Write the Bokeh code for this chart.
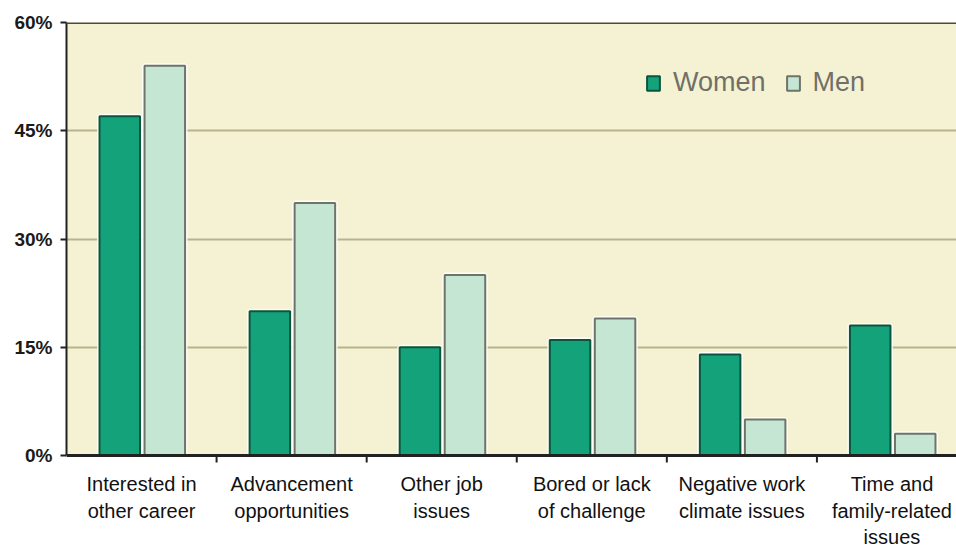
from bokeh.plotting import figure
from bokeh.models import (Range1d, FixedTicker, ColumnDataSource, Legend,
                          LegendItem, Span, LabelSet, BoxAnnotation)
from bokeh.core.properties import value
from bokeh.embed import file_html
from bokeh.resources import INLINE

# Reasons for leaving, share of respondents by gender
categories = [
    "Interested in\nother career",
    "Advancement\nopportunities",
    "Other job\nissues",
    "Bored or lack\nof challenge",
    "Negative work\nclimate issues",
    "Time and\nfamily-related\nissues",
]
women = [47, 20, 15, 16, 14, 18]
men = [54, 35, 25, 19, 5, 3]
y_ticks = [0, 15, 30, 45, 60]
y_tick_labels = ["0%", "15%", "30%", "45%", "60%"]

centers = [i + 0.5 for i in range(len(categories))]
boundaries = [i for i in range(1, len(categories))]

# plot area: 433 px for 0..60 %, with 93 px of label room below zero
PLOT_H = 433
LABEL_ROOM = 93
px = PLOT_H / 60.0
y_low = -LABEL_ROOM / px

src = ColumnDataSource(dict(
    xw=[c - 0.145 for c in centers],
    xm=[c + 0.155 for c in centers],
    women=women,
    men=men,
))

p = figure(width=956, height=548, x_range=Range1d(0, 5.93), y_range=Range1d(y_low, 60),
           output_backend="svg", toolbar_location=None, x_axis_location=None,
           min_border_left=66, min_border_right=0, min_border_top=22,
           min_border_bottom=0)
p.background_fill_color = "white"
p.border_fill_color = "white"
p.outline_line_color = None

# pale yellow chart area above the zero line
p.add_layout(BoxAnnotation(bottom=0, top=60, fill_color="#f4f2d3", fill_alpha=1,
                           line_color=None, level="image"))

# grid
p.xgrid.visible = False
p.ygrid.ticker = FixedTicker(ticks=[15, 30, 45])
p.ygrid.grid_line_color = "#b8b38e"
p.ygrid.grid_line_width = 2
p.add_layout(Span(location=60, dimension="width", line_color="#4d4c3c", line_width=3))

# soft white halo behind the bars
bar_w = 0.27
p.vbar(x="xw", top="women", width=bar_w, bottom=0, source=src, fill_color=None,
       line_color="white", line_width=5, line_alpha=0.85)
p.vbar(x="xm", top="men", width=bar_w, bottom=0, source=src, fill_color=None,
       line_color="white", line_width=5, line_alpha=0.85)

rw = p.vbar(x="xw", top="women", width=bar_w, bottom=0, source=src,
            fill_color="#14a27a", line_color="#0c553c", line_width=2)
rm = p.vbar(x="xm", top="men", width=bar_w, bottom=0, source=src,
            fill_color="#c6e6d4", line_color="#6f7468", line_width=2)

# category baseline with tick marks between groups
p.add_layout(Span(location=0, dimension="width", line_color="#222222", line_width=3))
p.segment(x0=boundaries, x1=boundaries, y0=[0] * len(boundaries),
          y1=[-7 / px] * len(boundaries), line_color="#222222", line_width=2)

# y axis
p.yaxis.bounds = (0, 60)
p.yaxis.ticker = FixedTicker(ticks=y_ticks)
p.yaxis.major_label_overrides = {t: l for t, l in zip(y_ticks, y_tick_labels)}
p.yaxis.axis_line_color = "#222222"
p.yaxis.axis_line_width = 2
p.yaxis.major_tick_in = 0
p.yaxis.major_tick_out = 6
p.yaxis.major_tick_line_width = 2
p.yaxis.major_tick_line_color = "#222222"
p.yaxis.minor_tick_line_color = None
p.yaxis.major_label_text_font = "Liberation Sans"
p.yaxis.major_label_text_font_size = "19px"
p.yaxis.major_label_text_font_style = "bold"
p.yaxis.major_label_text_color = "#1a1a1a"
p.yaxis.major_label_standoff = 8

# group names, one line per label row, centred under each group
lx, ly, ltxt, loff = [], [], [], []
for c, name in zip(centers, categories):
    for k, line in enumerate(name.split("\n")):
        lx.append(c)
        ly.append(0)
        ltxt.append(line)
        loff.append(-(28.5 + 26.5 * k))
cat_src = ColumnDataSource(dict(x=lx, y=ly, text=ltxt, off=loff))
p.add_layout(LabelSet(x="x", y="y", text="text", y_offset="off", source=cat_src,
                      text_align="center", text_baseline="middle",
                      text_font=value("Liberation Sans"), text_font_size="20px",
                      text_color="#111111"))

legend = Legend(items=[LegendItem(label="Women", renderers=[rw]),
                       LegendItem(label="Men", renderers=[rm])],
                location=(579, 548 - 98), orientation="horizontal",
                glyph_width=16, glyph_height=18, label_standoff=12, spacing=19,
                padding=0, margin=0, border_line_color=None,
                background_fill_alpha=0,
                label_text_font="Liberation Sans", label_text_font_size="27px",
                label_text_color="#707068")
p.add_layout(legend)

open("out.html", "w").write(file_html(p, INLINE))
